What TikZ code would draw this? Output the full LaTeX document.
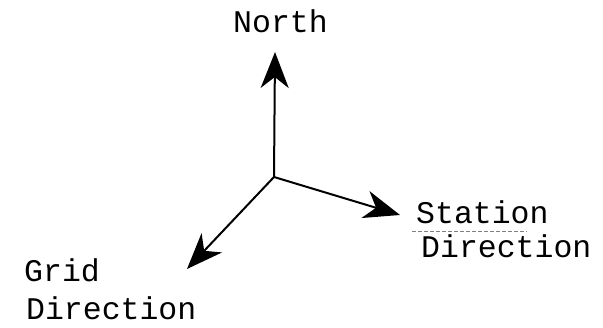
\documentclass[tikz,border=0pt]{standalone}
\usepackage{fontspec}
\setmainfont{Liberation Mono}
\usetikzlibrary{arrows.meta}
\tikzset{
  lbl/.style={anchor=base west, inner sep=0pt, font=\fontsize{31.5}{31.5}\selectfont},
  vec/.style={line width=2pt, -{Stealth[length=36pt, width=28pt, inset=11pt]}},
}
\begin{document}
\begin{tikzpicture}[x=1pt,y=-1pt]
\useasboundingbox (0,0) rectangle (603,328);
\coordinate (O) at (274,177);
\coordinate (N) at (275,52);
\coordinate (S) at (400,215);
\coordinate (G) at (187,269);
\node[lbl] (north) at (233,33) {North};
\node[lbl] (st1) at (416,224) {Station};
\node[lbl] (st2) at (421,258) {Direction};
\node[lbl] (gr1) at (24,282) {Grid};
\node[lbl] (gr2) at (26,320) {Direction};
\draw[vec] (O) -- (N);
\draw[vec] (O) -- (S);
\draw[vec] (O) -- (G);
\coordinate (u1) at (412,231);
\coordinate (u2) at (527,231);
\draw[gray, line width=0.6pt, dash pattern=on 4pt off 2pt] (u1) -- (u2);
\end{tikzpicture}
\end{document}
